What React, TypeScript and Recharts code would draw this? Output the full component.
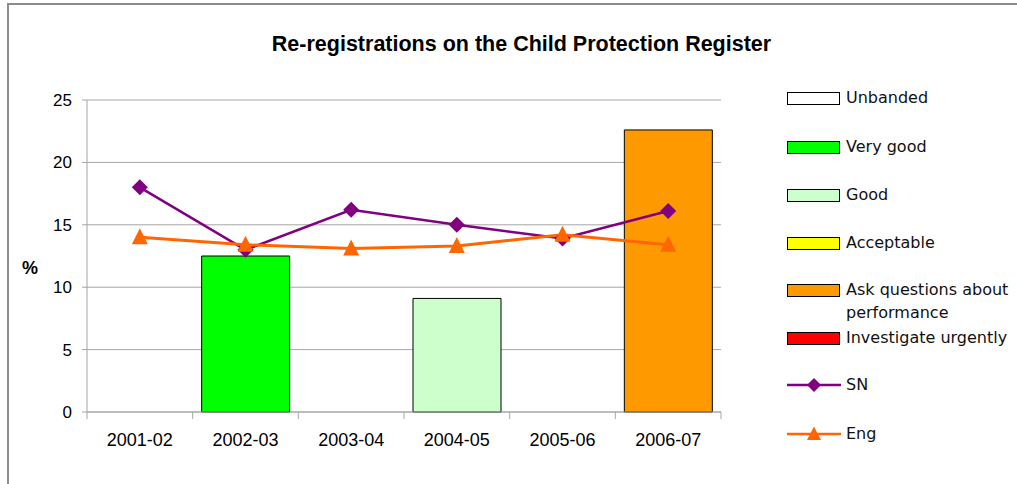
import { ComposedChart, Bar, Line, XAxis, YAxis, CartesianGrid } from 'recharts'

const CATEGORIES = ['2001-02', '2002-03', '2003-04', '2004-05', '2005-06', '2006-07']
const Y_TICKS = [0, 5, 10, 15, 20, 25]

// banding bars (one band per year)
const UNBANDED = [null, null, null, null, null, null]
const VERY_GOOD = [null, 12.5, null, null, null, null]
const GOOD = [null, null, null, 9.1, null, null]
const ACCEPTABLE = [null, null, null, null, null, null]
const ASK_QUESTIONS = [null, null, null, null, null, 22.6]
const INVESTIGATE = [null, null, null, null, null, null]

// lines
const SN = [18, 13, 16.2, 15, 13.9, 16.1]
const ENG = [14, 13.4, 13.1, 13.3, 14.2, 13.4]

const BANDS = [
  { key: 'unbanded', name: 'Unbanded', color: '#ffffff' },
  { key: 'veryGood', name: 'Very good', color: '#00ff00' },
  { key: 'good', name: 'Good', color: '#ccffcc' },
  { key: 'acceptable', name: 'Acceptable', color: '#ffff00' },
  { key: 'ask', name: 'Ask questions about performance', color: '#ff9900' },
  { key: 'investigate', name: 'Investigate urgently', color: '#ff0000' },
]

const data = CATEGORIES.map((year, i) => ({
  year,
  unbanded: UNBANDED[i],
  veryGood: VERY_GOOD[i],
  good: GOOD[i],
  acceptable: ACCEPTABLE[i],
  ask: ASK_QUESTIONS[i],
  investigate: INVESTIGATE[i],
  sn: SN[i],
  eng: ENG[i],
}))

const PURPLE = '#800080'
const ORANGE = '#ff6600'
const GRID = '#a6a6a6'

// chart layout
const W = 1017
const H = 484
const MARGIN = { top: 100, right: 296, left: 27, bottom: 42 }
const Y_AXIS_W = 60
const X_AXIS_H = 30
const PLOT_BOTTOM = H - MARGIN.bottom - X_AXIS_H
const HALF_BAND = (W - MARGIN.left - Y_AXIS_W - MARGIN.right) / CATEGORIES.length / 2

const Diamond = (props: any) => {
  const { cx, cy, index } = props
  if (cx == null || cy == null) return null
  const r = 8
  return <path key={`d${index}`} d={`M${cx},${cy - r}L${cx + r},${cy}L${cx},${cy + r}L${cx - r},${cy}Z`} fill={PURPLE} />
}

const Triangle = (props: any) => {
  const { cx, cy, index } = props
  if (cx == null || cy == null) return null
  return <path key={`t${index}`} d={`M${cx},${cy - 9}L${cx + 8},${cy + 7}L${cx - 8},${cy + 7}Z`} fill={ORANGE} />
}

// Excel style: tick marks between categories, label centred
const CategoryTick = (props: any) => {
  const { x, payload, index } = props
  const last = index === CATEGORIES.length - 1
  return (
    <g>
      <line x1={x - HALF_BAND} x2={x - HALF_BAND} y1={PLOT_BOTTOM} y2={PLOT_BOTTOM + 7} stroke={GRID} />
      {last && <line x1={x + HALF_BAND} x2={x + HALF_BAND} y1={PLOT_BOTTOM} y2={PLOT_BOTTOM + 7} stroke={GRID} />}
      <text x={x} y={PLOT_BOTTOM + 34} textAnchor="middle" fill="#000" fontSize={18} fontFamily="Liberation Sans, Arial">
        {payload.value}
      </text>
    </g>
  )
}

const legendTops = [98, 147, 195, 243, 290, 338, 385, 434]

function LegendBox() {
  const items = [
    ...BANDS.map((b) => ({ name: b.name, kind: 'box', color: b.color })),
    { name: 'SN', kind: 'diamond', color: PURPLE },
    { name: 'Eng', kind: 'triangle', color: ORANGE },
  ]
  return (
    <>
      {items.map((it, i) => (
        <div key={it.name} style={{ position: 'absolute', left: 787, top: legendTops[i] - 9, display: 'flex', alignItems: 'flex-start' }}>
          <svg width={54} height={18} style={{ flex: 'none' }}>
            {it.kind === 'box' && <rect x={0.5} y={3.5} width={52} height={12} fill={it.color} stroke="#000" />}
            {it.kind !== 'box' && <line x1={0} x2={54} y1={9} y2={9} stroke={it.color} strokeWidth={2.5} />}
            {it.kind === 'diamond' && <path d="M27,2L34,9L27,16L20,9Z" fill={it.color} />}
            {it.kind === 'triangle' && <path d="M27,1.5L34,15L20,15Z" fill={it.color} />}
          </svg>
          <div style={{ marginLeft: 5, width: 172, fontFamily: 'DejaVu Sans', fontSize: 16, lineHeight: '23px', marginTop: -3, color: '#111' }}>
            {it.name}
          </div>
        </div>
      ))}
    </>
  )
}

export default function App() {
  return (
    <div style={{ position: 'fixed', left: 0, top: 0, width: W, height: H, background: '#fff', overflow: 'hidden' }}>
      <div style={{ position: 'absolute', left: 7, top: 3, width: 1020, height: 490, borderLeft: '2px solid #8c8c8c', borderTop: '2px solid #8c8c8c' }} />
      <div style={{ position: 'absolute', left: 0, width: 1043, top: 32, textAlign: 'center', fontFamily: 'Liberation Sans, Arial', fontWeight: 'bold', fontSize: 21.5 }}>
        Re-registrations on the Child Protection Register
      </div>
      <div style={{ position: 'absolute', left: 22, top: 258, fontFamily: 'Liberation Sans, Arial', fontWeight: 'bold', fontSize: 18 }}>%</div>
      <div style={{ position: 'absolute', left: 0, top: 0 }}>
        <ComposedChart width={W} height={H} data={data} margin={MARGIN}>
          <CartesianGrid vertical={false} stroke={GRID} />
          <XAxis dataKey="year" height={X_AXIS_H} axisLine={{ stroke: GRID }} tickLine={false} tick={CategoryTick} interval={0} />
          <YAxis width={Y_AXIS_W} domain={[0, 25]} ticks={Y_TICKS} axisLine={{ stroke: GRID }} tickLine={{ stroke: GRID }} tickSize={5} tickMargin={10}
            tick={{ fill: '#000', fontSize: 17, fontFamily: 'Liberation Sans, Arial' }} />
          <YAxis yAxisId="r" orientation="right" width={0} domain={[0, 25]} tick={false} tickLine={false} axisLine={{ stroke: GRID }} />
          {BANDS.map((b) => (
            <Bar key={b.key} dataKey={b.key} name={b.name} stackId="band" fill={b.color} stroke="#000" strokeWidth={1} barSize={88} isAnimationActive={false} />
          ))}
          <Line dataKey="sn" name="SN" stroke={PURPLE} strokeWidth={2.5} dot={Diamond} activeDot={false} isAnimationActive={false} />
          <Line dataKey="eng" name="Eng" stroke={ORANGE} strokeWidth={3} dot={Triangle} activeDot={false} isAnimationActive={false} />
        </ComposedChart>
      </div>
      <LegendBox />
    </div>
  )
}
